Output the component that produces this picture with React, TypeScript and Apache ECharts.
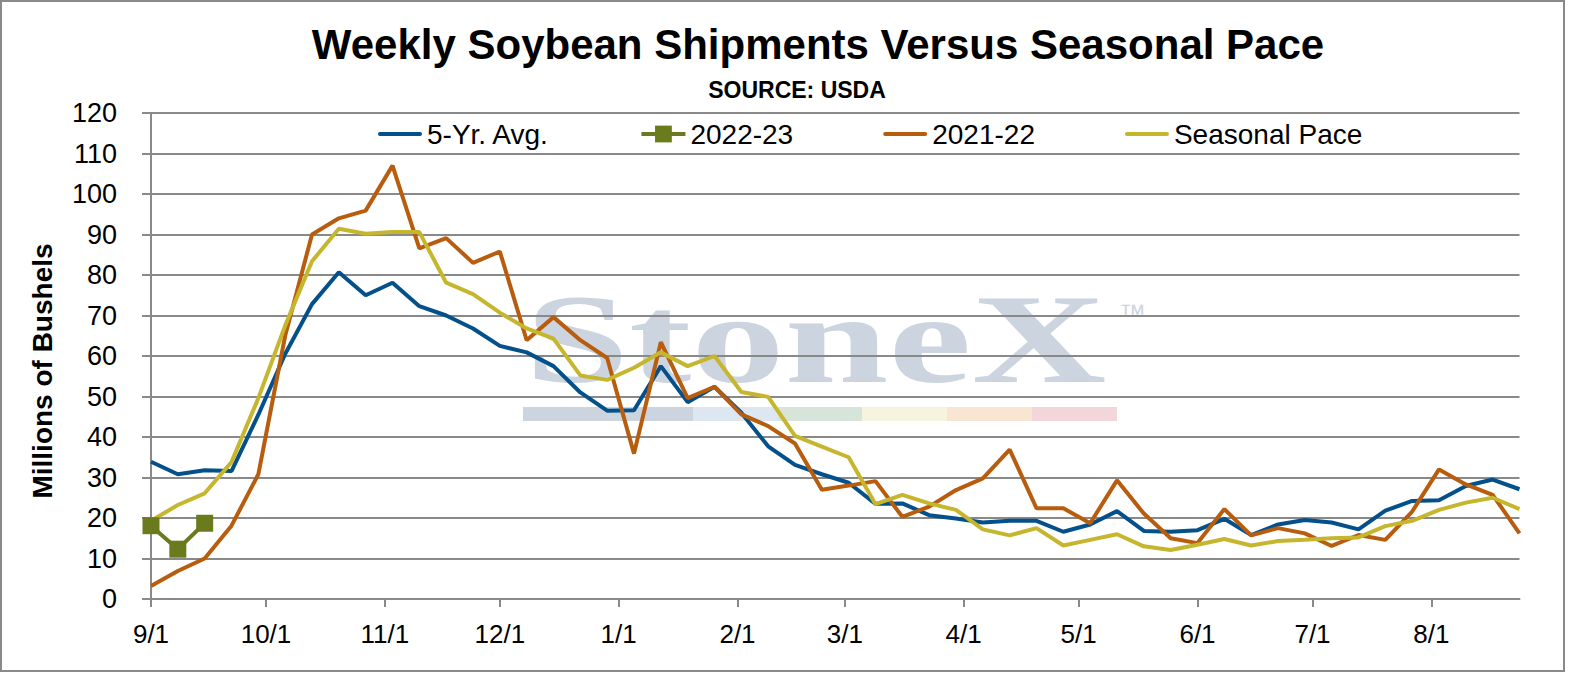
import React, { useEffect, useRef } from "react";
import * as echarts from "echarts";

// Week offsets (days after 9/1) for each weekly observation
const WEEK_DAYS = [
  0, 7, 14, 21, 28, 35, 42, 49, 56, 63, 70, 77, 84, 91, 98, 105, 112, 119, 126, 133,
  140, 147, 154, 161, 168, 175, 182, 189, 196, 203, 210, 217, 224, 231, 238, 245,
  252, 259, 266, 273, 280, 287, 294, 301, 308, 315, 322, 329, 336, 343, 350, 357,
];

// Month tick positions (days after 9/1) and labels
const MONTH_DAYS = [0, 30, 61, 91, 122, 153, 181, 212, 242, 273, 303, 334];
const MONTH_LABELS = ["9/1", "10/1", "11/1", "12/1", "1/1", "2/1", "3/1", "4/1", "5/1", "6/1", "7/1", "8/1"];

const AVG5 = [
  33.9, 30.8, 31.8, 31.6, 45.5, 60.5, 72.8, 80.7, 75.0, 78.1, 72.3, 70.0, 66.8, 62.5, 60.9, 57.5,
  51.0, 46.5, 46.6, 57.5, 48.6, 52.4, 46.0, 37.7, 33.1, 30.8, 28.7, 23.5, 23.6, 20.7, 19.9, 18.9,
  19.3, 19.3, 16.6, 18.4, 21.7, 16.8, 16.6, 17.0, 19.8, 15.8, 18.4, 19.5, 18.9, 17.2, 21.8, 24.2,
  24.4, 27.9, 29.5, 27.1,
];

const Y2223 = [18.1, 12.3, 18.7];

const Y2122 = [
  3.2, 6.9, 10.0, 18.1, 30.8, 65.0, 90.0, 94.0, 95.9, 107.0, 86.6, 89.1, 83.0, 85.8, 63.9, 69.6,
  63.9, 59.5, 35.9, 63.4, 49.6, 52.4, 45.6, 42.7, 38.4, 27.0, 28.0, 29.1, 20.3, 22.8, 26.9, 29.8,
  36.9, 22.4, 22.4, 18.7, 29.3, 21.1, 15.0, 13.8, 22.2, 15.7, 17.5, 16.2, 13.1, 15.8, 14.6, 21.6,
  32.0, 28.3, 25.7, 16.2,
];

const SEASONAL = [
  19.3, 23.2, 26.1, 33.8, 49.6, 67.5, 83.4, 91.4, 90.2, 90.6, 90.6, 78.1, 75.3, 70.7, 66.8, 64.3,
  55.2, 54.1, 57.1, 60.9, 57.5, 60.0, 51.1, 49.9, 40.3, 37.6, 35.0, 23.4, 25.7, 23.6, 22.0, 17.2,
  15.7, 17.5, 13.2, 14.6, 16.0, 13.0, 12.1, 13.4, 14.8, 13.2, 14.3, 14.6, 15.0, 15.2, 18.0, 19.3,
  22.0, 23.8, 25.0, 22.2,
];

const SERIES_NAMES = ["5-Yr. Avg.", "2022-23", "2021-22", "Seasonal Pace"];
const COLORS = ["#03508A", "#6A7B1E", "#B85C0E", "#C6B62E"];

const FONT = "'Liberation Sans', Arial, sans-serif";
const GRID_COLOR = "#898989";
const LINE_ICON = "path://M2,0 L42,0 A2,2 0 0 1 42,4 L2,4 A2,2 0 0 1 2,0 Z";

const toPairs = (vals: number[]) => vals.map((v, i) => [WEEK_DAYS[i], v]);

export default function App() {
  const ref = useRef<HTMLDivElement>(null);

  useEffect(() => {
    if (!ref.current) return;
    const chart = echarts.init(ref.current, undefined, { renderer: "svg" });

    const wmColor = "#CCD4DF";
    const bars = [
      [523, 693, "#CBD4DF"],
      [693, 778, "#DCE7F1"],
      [778, 862, "#D6E4DA"],
      [862, 947, "#F6F4DE"],
      [947, 1032, "#F8E6D2"],
      [1032, 1117, "#F3D6D9"],
    ] as [number, number, string][];

    const option: any = {
      animation: false,
      backgroundColor: "#ffffff",
      textStyle: { fontFamily: FONT },
      grid: { left: 151, right: 57.5, top: 113, bottom: 78 },
      xAxis: {
        type: "value",
        min: 0,
        max: 357,
        axisLine: { show: true, lineStyle: { color: GRID_COLOR, width: 2 } },
        axisTick: {
          show: true,
          customValues: MONTH_DAYS,
          length: 8,
          lineStyle: { color: GRID_COLOR, width: 2 },
        },
        axisLabel: {
          customValues: MONTH_DAYS,
          formatter: (v: number) => {
            const idx = MONTH_DAYS.indexOf(Math.round(v));
            return idx >= 0 ? MONTH_LABELS[idx] : "";
          },
          fontSize: 26,
          color: "#000",
          margin: 22,
          fontFamily: FONT,
        },
        splitLine: { show: false },
      },
      yAxis: {
        type: "value",
        min: 0,
        max: 120,
        interval: 10,
        axisLine: { show: true, lineStyle: { color: GRID_COLOR, width: 2 } },
        axisTick: { show: true, length: 9, lineStyle: { color: GRID_COLOR, width: 2 } },
        axisLabel: { fontSize: 27, color: "#000", margin: 34, fontFamily: FONT },
        splitLine: { show: true, lineStyle: { color: GRID_COLOR, width: 2 } },
      },
      legend: {
        left: 378,
        top: 120,
        padding: 0,
        itemGap: 90,
        itemWidth: 44,
        itemHeight: 21,
        textStyle: { fontSize: 28, color: "#000", fontFamily: FONT },
        data: [
          { name: SERIES_NAMES[0], icon: LINE_ICON, itemStyle: { color: COLORS[0] } },
          { name: SERIES_NAMES[1], lineStyle: { width: 4, color: COLORS[1] } },
          { name: SERIES_NAMES[2], icon: LINE_ICON, itemStyle: { color: COLORS[2] } },
          { name: SERIES_NAMES[3], icon: LINE_ICON, itemStyle: { color: COLORS[3] } },
        ],
      },
      graphic: {
        elements: [
          {
            type: "text",
            x: 525,
            y: 339,
            scaleX: 1.46,
            z: -10,
            silent: true,
            style: {
              text: "StoneX",
              fontFamily: "'Liberation Serif', 'Times New Roman', serif",
              fontWeight: "bold",
              fontSize: 128,
              fill: wmColor,
              align: "left",
              verticalAlign: "middle",
            },
          },
          {
            type: "text",
            x: 1119,
            y: 314,
            z: -10,
            silent: true,
            style: {
              text: "™",
              fontFamily: FONT,
              fontSize: 27,
              fill: wmColor,
              align: "left",
              verticalAlign: "middle",
            },
          },
          ...bars.map(([x0, x1, c]) => ({
            type: "rect",
            z: -10,
            silent: true,
            shape: { x: x0, y: 407, width: x1 - x0, height: 14 },
            style: { fill: c },
          })),
          {
            type: "text",
            x: 818,
            y: 44,
            style: {
              text: "Weekly Soybean Shipments Versus Seasonal Pace",
              fontFamily: FONT,
              fontWeight: "bold",
              fontSize: 42,
              fill: "#000",
              align: "center",
              verticalAlign: "middle",
            },
          },
          {
            type: "text",
            x: 797,
            y: 90,
            style: {
              text: "SOURCE: USDA",
              fontFamily: FONT,
              fontWeight: "bold",
              fontSize: 23,
              fill: "#000",
              align: "center",
              verticalAlign: "middle",
            },
          },
          {
            type: "text",
            x: 42,
            y: 371,
            rotation: Math.PI / 2,
            style: {
              text: "Millions of Bushels",
              fontFamily: FONT,
              fontWeight: "bold",
              fontSize: 28,
              fill: "#000",
              align: "center",
              verticalAlign: "middle",
            },
          },
          {
            type: "rect",
            z: 100,
            silent: true,
            shape: { x: 1, y: 1, width: 1563, height: 670 },
            style: { fill: "none", stroke: "#898989", lineWidth: 2 },
          },
        ],
      },
      series: [
        {
          name: SERIES_NAMES[0],
          type: "line",
          data: toPairs(AVG5),
          symbol: "none",
          lineStyle: { color: COLORS[0], width: 4 },
          itemStyle: { color: COLORS[0] },
        },
        {
          name: SERIES_NAMES[1],
          type: "line",
          data: toPairs(Y2223),
          symbol: "rect",
          symbolSize: 17,
          lineStyle: { color: COLORS[1], width: 4 },
          itemStyle: { color: COLORS[1] },
        },
        {
          name: SERIES_NAMES[2],
          type: "line",
          data: toPairs(Y2122),
          symbol: "none",
          lineStyle: { color: COLORS[2], width: 4 },
          itemStyle: { color: COLORS[2] },
        },
        {
          name: SERIES_NAMES[3],
          type: "line",
          data: toPairs(SEASONAL),
          symbol: "none",
          lineStyle: { color: COLORS[3], width: 4 },
          itemStyle: { color: COLORS[3] },
        },
      ],
    };

    chart.setOption(option);
    return () => chart.dispose();
  }, []);

  return (
    <div
      ref={ref}
      style={{ position: "fixed", left: 0, top: 0, width: 1577, height: 677, background: "#fff" }}
    />
  );
}
